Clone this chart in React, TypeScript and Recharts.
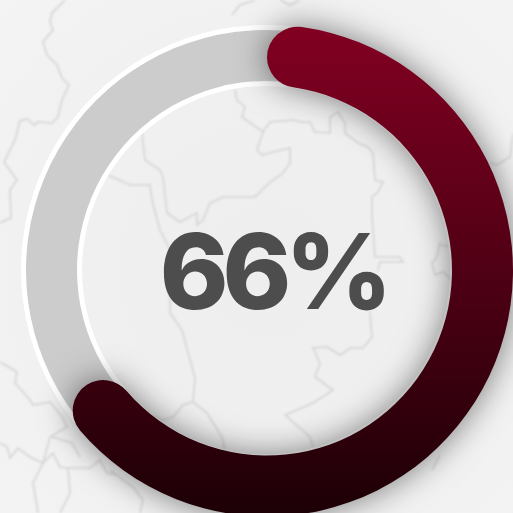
import { Cell, Line, LineChart, Pie, PieChart, XAxis, YAxis } from "recharts";

const SIZE = 513;
const PERCENT_LABEL = "66%";
const progressValues = [66, 34];
const trackValues = [100];

// faint map outlines behind the ring as [x, y]
const borderNorthWest = [[65, 0], [52, 13], [50, 22], [53, 30], [43, 42], [47, 55], [57, 65], [62, 78], [69, 85], [62, 100], [58, 117], [52, 123], [38, 122], [34, 125], [27, 119], [20, 121], [15, 140], [4, 162], [17, 180], [10, 190], [11, 218], [0, 223]];
const borderTop = [[232, 15], [240, 5], [255, 0]];
const borderTopRight = [[280, 0], [290, 5], [300, 0]];
const borderNorth = [[235, 90], [237, 100], [245, 107], [242, 117], [263, 132], [270, 122], [293, 120], [302, 122], [310, 122], [315, 132], [330, 133], [330, 117], [338, 112], [345, 123], [345, 133], [358, 143], [368, 147], [373, 153], [375, 180], [383, 182], [378, 192], [372, 197], [372, 217], [375, 257], [400, 257], [403, 262], [380, 262], [378, 270]];
const borderCentre = [[263, 132], [257, 150], [262, 155], [273, 152], [290, 148], [290, 163], [283, 173], [270, 182], [255, 197], [243, 197], [223, 197], [210, 203], [203, 220], [197, 225], [197, 213], [180, 222], [167, 213], [163, 177], [160, 170], [145, 160], [142, 133]];
const borderSpine = [[108, 175], [130, 185], [150, 185], [152, 200], [160, 230], [170, 250], [170, 313], [182, 330], [195, 378], [193, 402], [207, 413], [222, 437], [225, 450]];
const borderSpineWest = [[193, 402], [183, 405], [173, 417], [163, 420], [150, 415]];
const borderSouth = [[370, 312], [372, 337], [363, 348], [350, 348], [340, 355], [327, 347], [313, 348], [320, 363], [315, 377], [333, 390], [313, 403], [285, 415], [310, 437], [313, 447]];
const borderEastIsland = [[440, 242], [437, 257], [432, 263], [435, 275], [443, 272], [452, 280]];
const borderEastIslandTop = [[440, 245], [452, 247]];
const borderEast = [[513, 133], [510, 157], [497, 165], [490, 163]];
const borderSouthWest = [[0, 362], [17, 372], [15, 383], [30, 400], [33, 405], [50, 402], [63, 418], [67, 427], [50, 437], [43, 463], [33, 483], [38, 513]];
const borderLowWest = [[0, 443], [7, 447], [10, 458], [18, 448], [30, 457], [43, 463], [53, 453], [60, 467], [68, 468], [90, 468], [100, 460], [107, 473], [117, 475]];
const borderLowBranch = [[68, 468], [70, 493], [60, 513]];
const borderLowLoop = [[52, 437], [72, 443], [80, 457]];
const borderLowEast = [[110, 470], [133, 487], [143, 500], [140, 513]];
const borderCorner = [[432, 470], [440, 455]];

const borders = [
  borderNorthWest, borderTop, borderTopRight, borderNorth, borderCentre, borderSpine, borderSpineWest,
  borderSouth, borderEastIsland, borderEastIslandTop, borderEast, borderSouthWest, borderLowWest,
  borderLowBranch, borderLowLoop, borderLowEast, borderCorner,
];

const layer = { position: "absolute", left: 0, top: 0, width: SIZE, height: SIZE } as const;
const trackData = trackValues.map((value) => ({ value }));
const progressData = progressValues.map((value) => ({ value }));

export default function App() {
  return (
    <div style={{ ...layer, overflow: "hidden", background: "radial-gradient(circle at 270px 270px, #eeeeee 0, #f0f0f0 190px, #f4f4f4 420px)" }}>
      <div style={{ ...layer, filter: "blur(0.8px)" }}>
        <LineChart width={SIZE} height={SIZE} margin={{ top: 0, right: 0, bottom: 0, left: 0 }}>
          <XAxis type="number" dataKey="x" domain={[0, SIZE]} hide />
          <YAxis type="number" dataKey="y" domain={[0, SIZE]} reversed hide />
          {borders.map((points, index) => (
            <Line
              key={index}
              data={points.map(([x, y]) => ({ x, y }))}
              dataKey="y"
              type="linear"
              stroke="#d4d4d4"
              strokeWidth={1.6}
              dot={false}
              legendType="none"
              isAnimationActive={false}
            />
          ))}
        </LineChart>
      </div>

      <div style={layer}>
        <PieChart width={SIZE} height={SIZE} margin={{ top: 0, right: 0, bottom: 0, left: 0 }}>
          <Pie data={trackData} dataKey="value" cx={266} cy={270} innerRadius={184} outerRadius={245} startAngle={90} endAngle={-270} stroke="none" fill="#ffffff" isAnimationActive={false} />
          <Pie data={trackData} dataKey="value" cx={266} cy={270} innerRadius={189} outerRadius={240} startAngle={90} endAngle={-270} stroke="none" fill="#cccccc" isAnimationActive={false} />
          <text x={273} y={309} textAnchor="middle" fontFamily="Inter" fontWeight={800} fontSize={104} letterSpacing={-6} fill="#4d4d4d">
            {PERCENT_LABEL}
          </text>
        </PieChart>
      </div>

      <div style={{ ...layer, filter: "drop-shadow(0 0 16px rgba(0,0,0,0.5))" }}>
        <PieChart width={SIZE} height={SIZE} margin={{ top: 0, right: 0, bottom: 0, left: 0 }}>
          <defs>
            <linearGradient id="progressFill" x1="0" y1="0" x2="0" y2="1">
              <stop offset="0%" stopColor="#820022" />
              <stop offset="100%" stopColor="#1c0006" />
            </linearGradient>
          </defs>
          <Pie data={progressData} dataKey="value" cx={267} cy={270.5} innerRadius={185} outerRadius={246} startAngle={90} endAngle={-270} cornerRadius={31} stroke="none" isAnimationActive={false}>
            <Cell fill="url(#progressFill)" />
            <Cell fill="none" />
          </Pie>
        </PieChart>
      </div>
    </div>
  );
}
